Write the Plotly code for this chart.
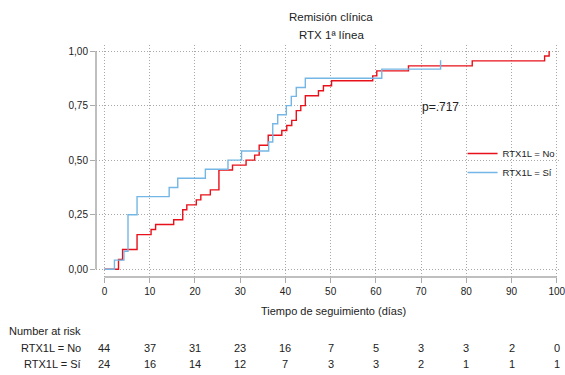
import plotly.graph_objects as go

# ---- data ----
red_times = [0, 3.1, 4.0, 7.2, 10.3, 11.3, 15.3, 17.3, 18.2, 20.3, 21.3, 23.4, 25.3, 28.3,
             31.3, 33.2, 34.2, 36.2, 39.2, 40.3, 41.4, 42.4, 43.4, 44.4, 47.3, 48.4, 50.2,
             59.3, 60.2, 67.2, 81.3, 97.3, 98.3]
red_cum = [0, 0.045, 0.091, 0.159, 0.182, 0.205, 0.227, 0.273, 0.295, 0.318, 0.341, 0.364,
           0.455, 0.477, 0.500, 0.523, 0.568, 0.614, 0.636, 0.659, 0.682, 0.727, 0.750,
           0.795, 0.818, 0.841, 0.864, 0.886, 0.909, 0.932, 0.955, 0.977, 1.000]

blue_times = [0, 2.2, 4.3, 5.2, 7.2, 14.3, 16.2, 22.3, 27.3, 30.3, 36.3, 37.2, 38.3,
              40.2, 41.3, 42.4, 44.4, 61.3, 74.3]
blue_cum = [0, 0.042, 0.083, 0.250, 0.333, 0.375, 0.417, 0.458, 0.500, 0.542, 0.583,
            0.667, 0.708, 0.750, 0.792, 0.833, 0.875, 0.917, 0.958]

x_ticks = [0, 10, 20, 30, 40, 50, 60, 70, 80, 90, 100]
y_ticks = [0, 0.25, 0.5, 0.75, 1.0]
y_tick_labels = ["0,00", "0,25", "0,50", "0,75", "1,00"]

risk_no = [44, 37, 31, 23, 16, 7, 5, 3, 3, 2, 0]
risk_si = [24, 16, 14, 12, 7, 3, 3, 2, 1, 1, 1]

group_names = ["RTX1L = No", "RTX1L = Sí"]
title_1 = "Remisión clínica"
title_2 = "RTX 1ª línea"
x_title = "Tiempo de seguimiento (días)"
p_text = "p=.717"
p_pos = (74.2, 0.745)

RED = "#e8101a"
BLUE = "#74b7e6"
FONT = "Liberation Sans, Arial, sans-serif"
AXC = "#aaaaaa"
GRID = "#a8a8a8"

fig = go.Figure()
fig.add_trace(go.Scatter(x=red_times, y=red_cum, mode="lines", line=dict(shape="hv", color=RED, width=1.4),
                         name=group_names[0]))
fig.add_trace(go.Scatter(x=blue_times, y=blue_cum, mode="lines", line=dict(shape="hv", color=BLUE, width=1.4),
                         name=group_names[1]))

fig.update_layout(
    width=565, height=375,
    margin=dict(l=96, r=5, t=45, b=98),
    plot_bgcolor="white", paper_bgcolor="white",
    font=dict(family=FONT, size=11, color="#222222"),
    showlegend=True,
    legend=dict(x=0.79, y=0.595, xanchor="left", yanchor="top", bgcolor="rgba(0,0,0,0)",
                font=dict(size=9.5), tracegroupgap=0),
)
fig.update_xaxes(range=[-1.875, 100.48], tickvals=x_ticks, ticks="outside", ticklen=5, tickcolor=AXC,
                 showgrid=True, gridcolor=GRID, griddash="1px,2px", gridwidth=1, automargin=False,
                 zeroline=False, showline=False, tickfont=dict(size=10), ticklabeloverflow="allow")
fig.update_yaxes(range=[-0.0353, 1.0275], tickvals=y_ticks, ticktext=y_tick_labels, ticks="outside",
                 ticklen=5, tickcolor=AXC, showgrid=True, gridcolor=GRID, griddash="1px,2px", gridwidth=1,
                 automargin=False, zeroline=False, showline=False, tickfont=dict(size=10))

# R-style axis lines spanning tick range
fig.add_shape(type="line", xref="paper", yref="y", x0=0, x1=0, y0=y_ticks[0], y1=y_ticks[-1],
              line=dict(color=AXC, width=1.5))
fig.add_shape(type="line", xref="x", yref="paper", x0=x_ticks[0], x1=x_ticks[-1], y0=0, y1=0,
              line=dict(color=AXC, width=1.5))

ann = []
ann.append(dict(text=title_1, xref="paper", yref="paper", x=0.508, y=1.1207, showarrow=False,
                xanchor="center", yanchor="middle", font=dict(size=11.5)))
ann.append(dict(text=title_2, xref="paper", yref="paper", x=0.508, y=1.041, showarrow=False,
                xanchor="center", yanchor="middle", font=dict(size=11.5)))
ann.append(dict(text=x_title, xref="paper", yref="paper", x=0.513, y=-0.1466, showarrow=False,
                xanchor="center", yanchor="middle", font=dict(size=11)))
ann.append(dict(text=p_text, xref="x", yref="y", x=p_pos[0], y=p_pos[1], showarrow=False,
                xanchor="center", yanchor="middle", font=dict(size=12)))
ann.append(dict(text="Number at risk", xref="paper", yref="paper", x=-0.028, y=-0.233, showarrow=False,
                xanchor="right", yanchor="middle", font=dict(size=11)))
row_y = [-0.308, -0.375]
for name, yy in zip(group_names, row_y):
    ann.append(dict(text=name, xref="paper", yref="paper", x=-0.028, y=yy, showarrow=False,
                    xanchor="right", yanchor="middle", font=dict(size=11)))
for row, yy in zip([risk_no, risk_si], row_y):
    for xv, n in zip(x_ticks, row):
        ann.append(dict(text=str(n), xref="x", yref="paper", x=xv, y=yy, showarrow=False,
                        xanchor="center", yanchor="middle", font=dict(size=11)))
fig.update_layout(annotations=ann)

fig.write_html("out.html", config={"displayModeBar": False},
               post_script="document.body.style.margin='0';document.body.style.padding='0';")
